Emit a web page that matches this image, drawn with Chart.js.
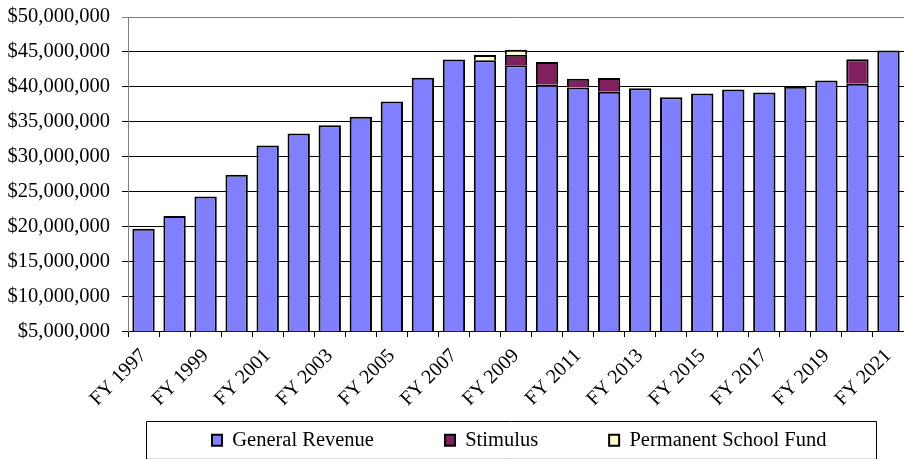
<!DOCTYPE html>
<html>
<head>
<meta charset="utf-8">
<script src="https://cdn.jsdelivr.net/npm/chart.js@4"></script>
<style>
  html, body { margin: 0; padding: 0; background: #fff; }
  #wrap { width: 904px; height: 459px; position: relative; }
</style>
</head>
<body>
<div id="wrap"><canvas id="c" width="904" height="459"></canvas></div>
<script>
const categories = ["FY 1997","FY 1998","FY 1999","FY 2000","FY 2001","FY 2002","FY 2003","FY 2004","FY 2005","FY 2006","FY 2007","FY 2008","FY 2009","FY 2010","FY 2011","FY 2012","FY 2013","FY 2014","FY 2015","FY 2016","FY 2017","FY 2018","FY 2019","FY 2020","FY 2021"];
const generalRevenue = [19650000,21500000,24300000,27400000,31600000,33300000,34500000,35700000,37900000,41300000,43900000,43800000,43100000,40300000,39900000,39300000,39800000,38500000,39050000,39600000,39200000,40000000,40900000,40450000,45200000];
const stimulus = [0,0,0,0,0,0,0,0,0,0,0,0,1500000,3250000,1250000,1950000,0,0,0,0,0,0,0,3500000,0];
const permanentSchoolFund = [0,0,0,0,0,0,0,0,0,0,0,750000,700000,0,0,0,0,0,0,0,0,0,0,0,0];
const yTicks = { min: 5000000, max: 50000000, step: 5000000 };

const FONT = 'Liberation Serif';
Chart.defaults.font.family = FONT;
Chart.defaults.color = '#000';

const legendTweak = {
  id: 'legendTweak',
  afterLayout(chart) {
    const lg = chart.legend;
    const P = lg.options.labels.padding;
    const dy = 430 - (lg.top + P);
    lg.top += dy;
    lg.bottom = chart.height;
    const dx = 212 - (lg.left + P);
    lg.left += dx;
    lg.right = chart.width;
  },
  afterDraw(chart) {
    const ctx = chart.ctx;
    ctx.save();
    ctx.strokeStyle = '#000';
    ctx.lineWidth = 1;
    ctx.beginPath();
    ctx.moveTo(146.5, 459);
    ctx.lineTo(146.5, 421.5);
    ctx.lineTo(876.5, 421.5);
    ctx.lineTo(876.5, 459);
    ctx.stroke();
    ctx.strokeStyle = '#ddd';
    ctx.beginPath();
    ctx.moveTo(147, 458.5);
    ctx.lineTo(876, 458.5);
    ctx.stroke();
    ctx.restore();
  }
};

const common = { borderColor: '#000', borderWidth: 2, clip: { left: false, right: false, top: false, bottom: 0 } };

new Chart(document.getElementById('c'), {
  type: 'bar',
  data: {
    labels: categories,
    datasets: [
      Object.assign({ label: 'General Revenue', data: generalRevenue, backgroundColor: '#8080FF' }, common),
      Object.assign({ label: 'Stimulus', data: stimulus, backgroundColor: '#80205F' }, common),
      Object.assign({ label: 'Permanent School Fund', data: permanentSchoolFund, backgroundColor: '#FFFFCC' }, common)
    ]
  },
  options: {
    responsive: false,
    animation: false,
    layout: { padding: { left: 0, right: 0, top: 0, bottom: 0 } },
    datasets: { bar: { categoryPercentage: 1, barPercentage: 0.72 } },
    plugins: {
      legend: {
        position: 'bottom',
        align: 'start',
        maxHeight: 41,
        labels: {
          font: { family: 'Liberation Serif', size: 20.5 },
          color: '#000',
          boxWidth: 10,
          boxHeight: 11,
          padding: 71
        }
      },
      tooltip: { enabled: false }
    },
    scales: {
      x: {
        stacked: true,
        afterFit: (s) => { s.paddingRight = 0; s.paddingLeft = 0; },
        grid: { drawOnChartArea: false, drawTicks: true, tickLength: 6, color: '#000', offset: true },
        border: { color: '#000', width: 1 },
        ticks: {
          autoSkip: false,
          maxRotation: 45,
          minRotation: 45,
          padding: 7,
          color: '#000',
          font: { family: FONT, size: 20 },
          callback: function (v, i) { return i % 2 === 0 ? this.getLabelForValue(v) : ''; }
        }
      },
      y: {
        stacked: true,
        min: yTicks.min,
        max: yTicks.max,
        afterFit: (s) => { s.width = 128; s.paddingTop = 17; },
        grid: { color: (c) => (c.tick && c.tick.value === yTicks.max ? '#808080' : '#000'), tickLength: 6 },
        border: { color: '#808080', width: 1 },
        ticks: {
          stepSize: yTicks.step,
          padding: 12,
          color: '#000',
          font: { family: FONT, size: 20.5 },
          callback: (v) => '$' + String(Math.round(v)).replace(/\B(?=(\d{3})+(?!\d))/g, ',')
        }
      }
    }
  },
  plugins: [legendTweak]
});
</script>
</body>
</html>
